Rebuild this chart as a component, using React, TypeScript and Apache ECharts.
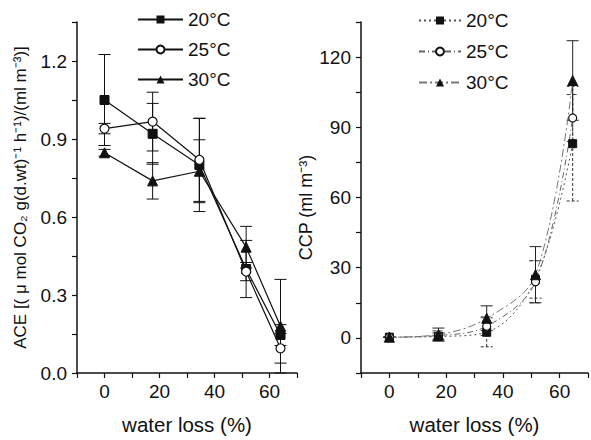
import React, { useEffect, useRef } from 'react';
import * as echarts from 'echarts';

// ---- Data ----
const xLeft = [0, 17.5, 34.5, 51.5, 64];
const ace20 = [1.05, 0.92, 0.8, 0.4, 0.146];
const ace25 = [0.94, 0.967, 0.82, 0.39, 0.095];
const ace30 = [0.847, 0.739, 0.776, 0.484, 0.18];
const aceErr20 = [0.175, 0.117, 0.179, 0.11, 0.04];
const aceErr25 = [0.02, 0.113, 0.16, 0.035, 0.057];
const aceErr30 = [0.013, 0.07, 0.121, 0.08, 0.18];

const xRight = [0, 17.3, 34.3, 51.5, 64.6];
const ccp20 = [0.3, 0.6, 2.4, 25, 83];
const ccp25 = [0.3, 1.0, 5, 24, 94];
const ccp30 = [0.3, 1.4, 8.4, 27, 110];
const ccpErr20 = [0, 1.5, 6.2, 8, 24.5];
const ccpErr25 = [0, 2, 4, 9, 10];
const ccpErr30 = [0, 2.8, 5.3, 12, 17];

const legendNames = ['20°C', '25°C', '30°C'];
const xTickLabels = [0, 20, 40, 60];
const aceTickLabels = [0, 0.3, 0.6, 0.9, 1.2];
const ccpTickLabels = [0, 30, 60, 90, 120];

const FONT = "'Liberation Sans', Arial, sans-serif";
const INK = '#111';

function errSeries(name: string, xs: number[], ys: number[], errs: number[], gi: number, color: string, capHalf: number, dash?: number[]) {
  return {
    type: 'custom',
    name,
    xAxisIndex: gi,
    yAxisIndex: gi,
    z: 1,
    silent: true,
    data: xs.map((x, i) => [x, ys[i] - errs[i], ys[i] + errs[i]]),
    encode: { x: 0, y: [1, 2] },
    renderItem: (_params: any, api: any) => {
      const x = api.value(0);
      const lo = api.value(1);
      const hi = api.value(2);
      const a = api.coord([x, lo]);
      const b = api.coord([x, hi]);
      const st: any = { stroke: color, lineWidth: 1, fill: 'none' };
      if (dash) st.lineDash = dash;
      return {
        type: 'group',
        children: [
          { type: 'line', shape: { x1: a[0], y1: a[1], x2: b[0], y2: b[1] }, style: st },
          { type: 'line', shape: { x1: a[0] - capHalf, y1: a[1], x2: a[0] + capHalf, y2: a[1] }, style: st },
          { type: 'line', shape: { x1: b[0] - capHalf, y1: b[1], x2: b[0] + capHalf, y2: b[1] }, style: st },
        ],
      };
    },
  };
}

function xAxisCfg(gi: number) {
  return {
    type: 'value',
    gridIndex: gi,
    min: -10,
    max: 70,
    interval: 10,
    axisLine: { show: true, onZero: false, lineStyle: { color: INK, width: 1.5 } },
    axisTick: { show: true, length: 5, lineStyle: { color: INK, width: 1.2 } },
    splitLine: { show: false },
    axisLabel: {
      formatter: (v: number) => (xTickLabels.indexOf(Math.round(v)) >= 0 && Math.abs(v - Math.round(v)) < 1e-6 ? String(Math.round(v)) : ''),
      fontSize: 19,
      color: INK,
      margin: 9,
      fontFamily: FONT,
    },
    name: 'water loss (%)',
    nameLocation: 'middle',
    nameGap: 41,
    nameTextStyle: { fontSize: 20.5, color: INK, fontFamily: FONT },
  };
}

export default function App() {
  const ref = useRef<HTMLDivElement>(null);
  useEffect(() => {
    if (!ref.current) return;
    const chart = echarts.init(ref.current, undefined, { renderer: 'svg' });
    const lineL = (name: string, ys: number[], symbol: string, open: boolean, size: number) => ({
      type: 'line',
      name,
      xAxisIndex: 0,
      yAxisIndex: 0,
      z: 3,
      data: xLeft.map((x, i) => [x, ys[i]]),
      symbol,
      symbolSize: size,
      showAllSymbol: true,
      lineStyle: { color: INK, width: 1.2 },
      itemStyle: open ? { color: '#fff', borderColor: INK, borderWidth: 1.2 } : { color: INK, borderColor: INK },
    });
    const lineR = (name: string, ys: number[], symbol: string, open: boolean, size: number, dash: any, lc: string) => ({
      type: 'line',
      name,
      xAxisIndex: 1,
      yAxisIndex: 1,
      z: 3,
      smooth: 0.35,
      data: xRight.map((x, i) => [x, ys[i]]),
      symbol,
      symbolSize: size,
      showAllSymbol: true,
      lineStyle: { color: lc, width: 1, type: dash },
      itemStyle: open ? { color: '#fff', borderColor: INK, borderWidth: 1.2 } : { color: INK, borderColor: INK },
    });
    chart.setOption({
      animation: false,
      backgroundColor: '#fff',
      grid: [
        { left: 77, top: 22, width: 220, height: 360 },
        { left: 361, top: 22, width: 230, height: 360 },
      ],
      legend: [
        {
          data: legendNames,
          orient: 'vertical',
          left: 132,
          top: 5,
          itemWidth: 45,
          itemHeight: 10,
          itemGap: 11,
          selectedMode: false,
          textStyle: { fontSize: 19, lineHeight: 18, color: INK, fontFamily: FONT },
        },
        {
          data: legendNames.map((n) => n + ' R'),
          formatter: (n: string) => n.replace(' R', ''),
          orient: 'vertical',
          left: 413,
          top: 6,
          itemWidth: 42,
          itemHeight: 10,
          itemGap: 12,
          selectedMode: false,
          textStyle: { fontSize: 19, lineHeight: 18, color: INK, fontFamily: FONT },
        },
      ],
      xAxis: [xAxisCfg(0), xAxisCfg(1)],
      yAxis: [
        {
          type: 'value',
          gridIndex: 0,
          min: 0,
          max: 1.35,
          interval: 0.15,
          axisLine: { show: true, onZero: false, lineStyle: { color: INK, width: 1.5 } },
          axisTick: { show: true, length: 5, lineStyle: { color: INK, width: 1.2 } },
          splitLine: { show: false },
          axisLabel: {
            formatter: (v: number) => {
              const m = aceTickLabels.find((t) => Math.abs(t - v) < 1e-6);
              return m === undefined ? '' : m.toFixed(1);
            },
            fontSize: 19,
            color: INK,
            margin: 10,
            fontFamily: FONT,
          },
          name: 'ACE [( μ mol CO₂ g(d.wt)⁻¹ h⁻¹)/(ml m⁻³)]',
          nameLocation: 'middle',
          nameRotate: 90,
          nameGap: 48,
          nameTextStyle: { fontSize: 17, color: INK, fontFamily: FONT },
        },
        {
          type: 'value',
          gridIndex: 1,
          min: -15,
          max: 135,
          interval: 15,
          axisLine: { show: true, onZero: false, lineStyle: { color: INK, width: 1.5 } },
          axisTick: { show: true, length: 5, lineStyle: { color: INK, width: 1.2 } },
          splitLine: { show: false },
          axisLabel: {
            formatter: (v: number) => (ccpTickLabels.indexOf(Math.round(v)) >= 0 ? String(Math.round(v)) : ''),
            fontSize: 19,
            color: INK,
            margin: 10,
            fontFamily: FONT,
          },
          name: 'CCP (ml m⁻³)',
          nameLocation: 'middle',
          nameRotate: 90,
          nameGap: 38,
          nameTextStyle: { fontSize: 18, color: INK, fontFamily: FONT, padding: [0, 20, 0, 0] },
        },
      ],
      series: [
        errSeries('e20L', xLeft, ace20, aceErr20, 0, INK, 6),
        errSeries('e25L', xLeft, ace25, aceErr25, 0, INK, 6),
        errSeries('e30L', xLeft, ace30, aceErr30, 0, INK, 6),
        lineL('20°C', ace20, 'rect', false, 9),
        lineL('25°C', ace25, 'circle', true, 9),
        lineL('30°C', ace30, 'triangle', false, 10),
        errSeries('e20R', xRight, ccp20, ccpErr20, 1, '#333', 6, [3, 2]),
        errSeries('e25R', xRight, ccp25, ccpErr25, 1, '#444', 6, [4, 2]),
        errSeries('e30R', xRight, ccp30, ccpErr30, 1, '#222', 6),
        lineR('20°C R', ccp20, 'rect', false, 8, [2, 3], '#555'),
        lineR('25°C R', ccp25, 'circle', true, 8, [6, 3, 1, 3], '#666'),
        lineR('30°C R', ccp30, 'triangle', false, 10, [8, 3, 2, 3], '#777'),
      ],
    });
    return () => chart.dispose();
  }, []);
  return <div ref={ref} style={{ position: 'absolute', left: 0, top: 0, width: 591, height: 440, background: '#fff' }} />;
}
